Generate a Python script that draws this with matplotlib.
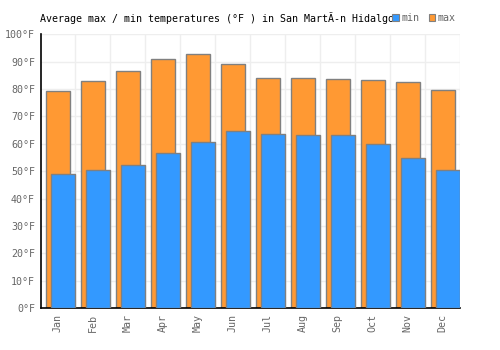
import matplotlib
matplotlib.use("Agg")
import matplotlib.pyplot as plt
import numpy as np
from matplotlib.patches import Patch

months = ["Jan", "Feb", "Mar", "Apr", "May", "Jun", "Jul", "Aug", "Sep", "Oct", "Nov", "Dec"]
max_temps = [79.4, 83.0, 86.7, 91.1, 92.9, 89.3, 84.0, 84.0, 83.8, 83.4, 82.7, 79.7]
min_temps = [49.0, 50.4, 52.3, 56.7, 60.7, 64.7, 63.6, 63.3, 63.3, 60.0, 54.8, 50.4]
yticks = [0, 10, 20, 30, 40, 50, 60, 70, 80, 90, 100]

plt.rcParams['font.family'] = ['DejaVu Sans Mono']
fs = 7.2
gray = '#666666'
orange = '#FF9933'
blue = '#3399FF'
edge = '#808080'

fig = plt.figure(figsize=(5, 3.5), dpi=100)
ax = fig.add_axes([0.081, 0.12, 0.839, 0.782])

x = np.arange(len(months))
ax.bar(x, max_temps, width=0.686, color=orange, edgecolor=edge, linewidth=1, zorder=2)
ax.bar(x + 0.15, min_temps, width=0.70, color=blue, edgecolor=edge, linewidth=1, zorder=3)

ax.set_xlim(-0.5, len(months) - 0.5)
ax.set_ylim(0, 100)
ax.set_yticks(yticks)
ax.set_yticklabels([f"{v}°F" for v in yticks], fontsize=fs, color=gray)
ax.set_xticks(x)
ax.set_xticklabels(months, rotation=90, fontsize=fs, color=gray)
ax.set_xticks(np.arange(len(months)) + 0.5, minor=True)
ax.tick_params(axis='both', which='both', length=0, pad=4)
ax.grid(True, axis='y', color='#eeeeee', linewidth=1, zorder=0)
ax.grid(True, axis='x', which='minor', color='#eeeeee', linewidth=1, zorder=0)
ax.set_axisbelow(True)
for s in ['top', 'right']:
    ax.spines[s].set_visible(False)
ax.spines['left'].set_color('black')
ax.spines['bottom'].set_color('black')
ax.spines['left'].set_linewidth(1.2)
ax.spines['bottom'].set_linewidth(1.2)

fig.text(40 / 500, 1 - 18 / 350, "Average max / min temperatures (°F ) in San MartÃ-n Hidalgo",
         fontsize=fs, color='black', va='center', ha='left')

handles = [Patch(facecolor=blue, edgecolor=edge, linewidth=0.8, label='min'),
           Patch(facecolor=orange, edgecolor=edge, linewidth=0.8, label='max')]
leg = fig.legend(handles=handles, loc='center left', bbox_to_anchor=(392 / 500, 1 - 18 / 350),
                 ncol=2, frameon=False, fontsize=fs, handlelength=0.65, handleheight=0.65,
                 handletextpad=0.3, columnspacing=0.9, borderpad=0, borderaxespad=0)
for t in leg.get_texts():
    t.set_color(gray)

fig.savefig("out.png", dpi=100)
